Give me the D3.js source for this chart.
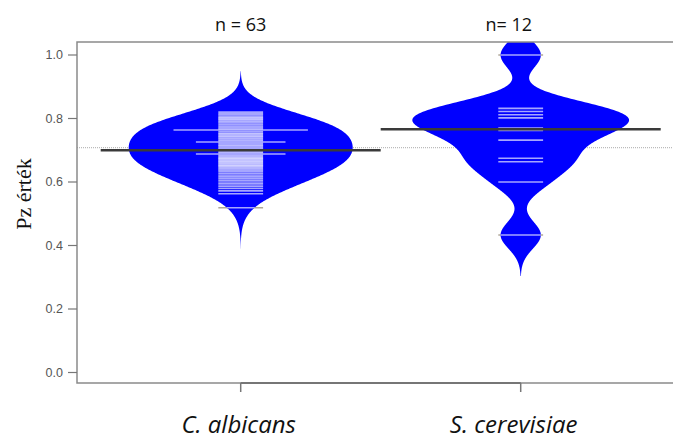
<!DOCTYPE html>
<html>
<head>
<meta charset="utf-8">
<script src="https://cdn.jsdelivr.net/npm/d3@7"></script>
<style>
  body { margin: 0; background: #fff; }
</style>
</head>
<body>
<script>
const categories = ["C. albicans", "S. cerevisiae"];
const nLabels = ["n = 63", "n= 12"];
const yTicks = [0, 0.2, 0.4, 0.6, 0.8, 1.0];

const albicans = [
  0.820, 0.815, 0.811, 0.806, 0.802, 0.798, 0.794, 0.790, 0.786, 0.781,
  0.776, 0.771, 0.767, 0.764, 0.764, 0.764, 0.759, 0.754, 0.750, 0.746,
  0.742, 0.738, 0.734, 0.730, 0.726, 0.726, 0.722, 0.717, 0.713, 0.708,
  0.704, 0.700, 0.696, 0.692, 0.688, 0.688, 0.684, 0.680, 0.676, 0.673,
  0.670, 0.667, 0.664, 0.661, 0.657, 0.653, 0.650, 0.646, 0.642, 0.638,
  0.634, 0.628, 0.622, 0.617, 0.612, 0.606, 0.600, 0.594, 0.587, 0.580,
  0.572, 0.563, 0.519
];
const cerevisiae = [
  1.000, 0.832, 0.822, 0.812, 0.802, 0.770, 0.762, 0.732, 0.675, 0.664,
  0.600, 0.433
];
const groups = [albicans, cerevisiae];

const bandwidth = 0.043;

const width = 673, height = 443;
const box = { left: 77, top: 42, right: 673, bottom: 383 };

const svg = d3.select("body").append("svg")
  .attr("width", width)
  .attr("height", height)
  .style("display", "block");

const x = d3.scalePoint().domain(categories).range([240.7, 520.7]);
const step = x(categories[1]) - x(categories[0]);
const y = d3.scaleLinear().domain([0, 1]).range([372.5, 55]);

// gaussian kernel density, cut at 3 bandwidths like beanplot
function density(values) {
  const lo = d3.min(values) - 3 * bandwidth;
  const hi = d3.max(values) + 3 * bandwidth;
  const pts = d3.range(0, 301).map(i => lo + (hi - lo) * i / 300);
  return pts.map(t => ({
    t,
    d: d3.mean(values, v => Math.exp(-0.5 * ((t - v) / bandwidth) ** 2)) / (bandwidth * Math.sqrt(2 * Math.PI))
  }));
}
const dens = groups.map(density);
const maxD = d3.max(dens, g => d3.max(g, p => p.d));
const w = d3.scaleLinear().domain([0, maxD]).range([0, step * 0.4]);

svg.append("clipPath").attr("id", "plot")
  .append("rect")
  .attr("x", box.left).attr("y", box.top)
  .attr("width", box.right - box.left).attr("height", box.bottom - box.top);

const plot = svg.append("g").attr("clip-path", "url(#plot)");

// overall median line
const overall = d3.median(groups.flat());
plot.append("line")
  .attr("x1", box.left).attr("x2", box.right)
  .attr("y1", y(overall)).attr("y2", y(overall))
  .style("stroke", "#aaa")
  .attr("stroke-width", 1)
  .attr("stroke-dasharray", "1,1");

categories.forEach((cat, i) => {
  const cx = x(cat);
  const vals = groups[i];
  const counts = d3.rollup(vals, v => v.length, v => v);
  const lineHalf = step * 0.08;

  // bean lines, grey where they stick out of the bean
  counts.forEach((c, v) => {
    plot.append("line")
      .attr("x1", cx - lineHalf * c).attr("x2", cx + lineHalf * c)
      .attr("y1", y(v)).attr("y2", y(v))
      .style("stroke", "#b0a898")
      .attr("stroke-width", 1.6);
  });

  const area = d3.area()
    .x0(p => cx - w(p.d))
    .x1(p => cx + w(p.d))
    .y(p => y(p.t));

  plot.append("path")
    .datum(dens[i])
    .attr("d", area)
    .style("fill", "#0000ff");

  svg.append("clipPath").attr("id", "bean" + i)
    .append("path")
    .datum(dens[i])
    .attr("d", area);

  const inner = plot.append("g").attr("clip-path", `url(#bean${i})`);
  counts.forEach((c, v) => {
    inner.append("line")
      .attr("x1", cx - lineHalf * c).attr("x2", cx + lineHalf * c)
      .attr("y1", y(v)).attr("y2", y(v))
      .style("stroke", "#fff")
      .attr("stroke-opacity", 0.65)
      .attr("stroke-width", 1.6);
  });

  const med = d3.median(vals);
  plot.append("line")
    .attr("x1", cx - step / 2).attr("x2", cx + step / 2)
    .attr("y1", y(med)).attr("y2", y(med))
    .style("stroke", "#3a3a3a")
    .attr("stroke-width", 2.5);
});

// frame
svg.append("path")
  .attr("d", `M${box.right},${box.top}H${box.left}V${box.bottom}H${box.right}`)
  .style("fill", "none")
  .style("stroke", "#8a8a8a")
  .attr("stroke-width", 1.5);

// y axis ticks
const yAxis = svg.append("g");
yTicks.forEach(t => {
  yAxis.append("line")
    .attr("x1", box.left - 9).attr("x2", box.left)
    .attr("y1", y(t)).attr("y2", y(t))
    .style("stroke", "#777")
    .attr("stroke-width", 1.2);
  yAxis.append("text")
    .attr("x", box.left - 14)
    .attr("y", y(t))
    .attr("dy", ".35em")
    .attr("text-anchor", "end")
    .style("font-family", "Liberation Sans, Arial, sans-serif")
    .attr("font-size", "12.5px")
    .style("fill", "#555")
    .text(t.toFixed(1));
});

// x axis
svg.append("line")
  .attr("x1", x(categories[0])).attr("x2", x(categories[1]))
  .attr("y1", box.bottom).attr("y2", box.bottom)
  .style("stroke", "#666")
  .attr("stroke-width", 1.5);
categories.forEach((cat, i) => {
  svg.append("line")
    .attr("x1", x(cat)).attr("x2", x(cat))
    .attr("y1", box.bottom).attr("y2", box.bottom + 9)
    .style("stroke", "#777")
    .attr("stroke-width", 1.5);
  svg.append("text")
    .attr("x", x(cat) + (i === 0 ? -2 : -7))
    .attr("y", 433)
    .attr("text-anchor", "middle")
    .style("font-family", "Open Sans, sans-serif")
    .style("font-style", "italic")
    .attr("font-size", "24px")
    .style("fill", "#111")
    .text(cat);
  svg.append("text")
    .attr("x", x(cat) + (i === 0 ? 0 : -12))
    .attr("y", 31)
    .attr("text-anchor", "middle")
    .style("font-family", "Open Sans, sans-serif")
    .attr("font-size", "18px")
    .style("fill", "#111")
    .text(nLabels[i]);
});

svg.append("text")
  .attr("transform", `translate(31,194) rotate(-90)`)
  .attr("text-anchor", "middle")
  .style("font-family", "Liberation Serif, Times New Roman, serif")
  .attr("font-size", "22px")
  .style("fill", "#111")
  .text("Pz  érték");
</script>
</body>
</html>
